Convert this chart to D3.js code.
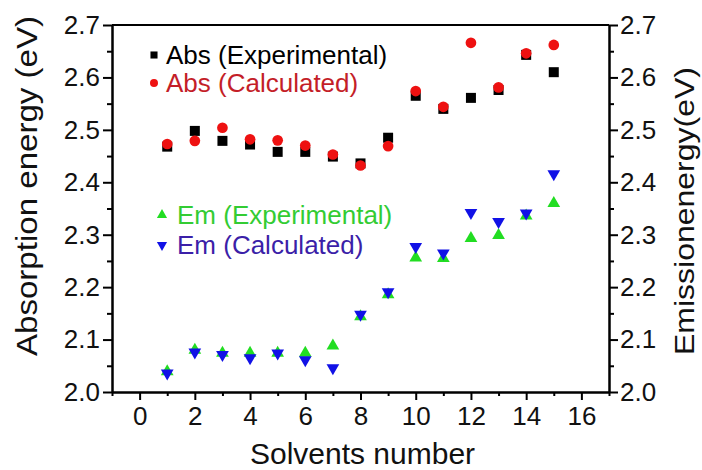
<!DOCTYPE html>
<html lang="en">
<head>
<meta charset="utf-8">
<title>Solvent energies</title>
<script src="https://d3js.org/d3.v7.min.js"></script>
<style>
  body { margin: 0; background: #fff; font-family: "Liberation Sans", Arial, sans-serif; }
</style>
</head>
<body>
<script>
// solvent numbers
var solvents = [1, 2, 3, 4, 5, 6, 7, 8, 9, 10, 11, 12, 13, 14, 15];
// absorption (eV)
var absExp  = [2.468, 2.498, 2.479, 2.472, 2.458, 2.458, 2.449, 2.436, 2.485, 2.565, 2.540, 2.561, 2.576, 2.643, 2.610];
var absCalc = [2.473, 2.479, 2.504, 2.482, 2.480, 2.470, 2.453, 2.432, 2.469, 2.574, 2.544, 2.666, 2.581, 2.646, 2.662];
// emission (eV)
var emExp   = [2.039, 2.080, 2.074, 2.074, 2.074, 2.074, 2.088, 2.144, 2.186, 2.256, 2.255, 2.293, 2.299, 2.336, 2.360];
var emCalc  = [2.036, 2.076, 2.071, 2.065, 2.074, 2.061, 2.046, 2.148, 2.191, 2.277, 2.265, 2.342, 2.325, 2.341, 2.416];
var xTicks = [0, 2, 4, 6, 8, 10, 12, 14, 16];
var yTicks = [2.0, 2.1, 2.2, 2.3, 2.4, 2.5, 2.6, 2.7];

var w = 702, h = 470;
var pLeft = 112, pRight = 609, pTop = 25, pBottom = 392;

var svg = d3.select("body").append("svg")
  .attr("width", w).attr("height", h);

var x = d3.scaleLinear().domain([-1, 17]).range([pLeft, pRight]);
var y = d3.scaleLinear().domain([2.0, 2.7]).range([pBottom, pTop]);
var y2 = d3.scaleLinear().domain([2.0, 2.7]).range([pBottom, pTop]);

var fmt = d3.format(".1f");

// minor ticks
var xMinor = d3.range(-1, 18, 2);
var yMinor = d3.range(2.05, 2.7, 0.1);

function styleAxis(g) {
  g.select(".domain").attr("stroke", "#000").attr("stroke-width", 2);
  g.selectAll(".tick line").attr("stroke", "#000").attr("stroke-width", 2);
  g.selectAll(".tick text").attr("font-size", 26).attr("fill", "#111")
    .attr("font-family", "Liberation Sans, Arial, sans-serif");
}

// bottom axis
svg.append("g").attr("transform", "translate(0," + pBottom + ")")
  .call(d3.axisBottom(x).tickValues(xMinor).tickSize(4).tickFormat("").tickSizeOuter(0))
  .call(styleAxis);
svg.append("g").attr("transform", "translate(0," + pBottom + ")")
  .call(d3.axisBottom(x).tickValues(xTicks).tickSize(8).tickPadding(7).tickSizeOuter(0))
  .call(styleAxis);

// left axis
svg.append("g").attr("transform", "translate(" + pLeft + ",0)")
  .call(d3.axisLeft(y).tickValues(yMinor).tickSize(5).tickFormat("").tickSizeOuter(0))
  .call(styleAxis);
svg.append("g").attr("transform", "translate(" + pLeft + ",0)")
  .call(d3.axisLeft(y).tickValues(yTicks).tickSize(9).tickPadding(3).tickFormat(fmt).tickSizeOuter(0))
  .call(styleAxis);

// right axis
svg.append("g").attr("transform", "translate(" + pRight + ",0)")
  .call(d3.axisRight(y2).tickValues(yMinor).tickSize(5).tickFormat("").tickSizeOuter(0))
  .call(styleAxis);
svg.append("g").attr("transform", "translate(" + pRight + ",0)")
  .call(d3.axisRight(y2).tickValues(yTicks).tickSize(9).tickPadding(2).tickFormat(fmt).tickSizeOuter(0))
  .call(styleAxis);

// top line
svg.append("line")
  .attr("x1", pLeft).attr("x2", pRight).attr("y1", pTop).attr("y2", pTop)
  .attr("stroke", "#000").attr("stroke-width", 2);

// axis titles
svg.append("text")
  .attr("x", (pLeft + pRight) / 2 + 2).attr("y", 464)
  .attr("text-anchor", "middle").attr("font-size", 30).attr("fill", "#111")
  .text("Solvents number");
svg.append("text")
  .attr("transform", "translate(37,186) rotate(-90)")
  .attr("text-anchor", "middle").attr("font-size", 29).attr("fill", "#111")
  .attr("textLength", 340).attr("lengthAdjust", "spacingAndGlyphs")
  .text("Absorption energy (eV)");
svg.append("text")
  .attr("transform", "translate(694,211) rotate(-90)")
  .attr("text-anchor", "middle").attr("font-size", 28).attr("fill", "#111")
  .attr("textLength", 288).attr("lengthAdjust", "spacingAndGlyphs")
  .text("Emissionenergy(eV)");

// markers
var sq = d3.symbol().type(d3.symbolSquare).size(100);
var circ = d3.symbol().type(d3.symbolCircle).size(90);
var triUp = d3.symbol().type(d3.symbolTriangle).size(70);

function plot(vals, path, color, rot) {
  svg.append("g").selectAll("path")
    .data(vals)
    .enter().append("path")
    .attr("d", path)
    .attr("fill", color)
    .attr("transform", function(d, i) {
      return "translate(" + x(solvents[i]) + "," + y(d) + ")" + (rot ? " rotate(180)" : "");
    });
}
plot(absExp, sq, "#000", false);
plot(absCalc, circ, "#ee1111", false);
plot(emExp, triUp, "#22dd22", false);
plot(emCalc, triUp, "#1111e6", true);

// legend
var legend = [
  {name: "Abs (Experimental)", sym: d3.symbol().type(d3.symbolSquare).size(50), fill: "#000", text: "#000", sx: 154, tx: 166, cy: 55, rot: false},
  {name: "Abs (Calculated)", sym: d3.symbol().type(d3.symbolCircle).size(50), fill: "#ee1111", text: "#c41e28", sx: 154, tx: 166, cy: 83, rot: false},
  {name: "Em (Experimental)", sym: d3.symbol().type(d3.symbolTriangle).size(45), fill: "#22dd22", text: "#33cc33", sx: 162, tx: 177, cy: 215, rot: false},
  {name: "Em (Calculated)", sym: d3.symbol().type(d3.symbolTriangle).size(45), fill: "#1111e6", text: "#3b1fa8", sx: 162, tx: 177, cy: 245, rot: true}
];
legend.forEach(function(l) {
  svg.append("path").attr("d", l.sym).attr("fill", l.fill)
    .attr("transform", "translate(" + l.sx + "," + l.cy + ")" + (l.rot ? " rotate(180)" : ""));
  svg.append("text").attr("x", l.tx).attr("y", l.cy + 9)
    .attr("font-size", 26).attr("fill", l.text).text(l.name);
});
</script>
</body>
</html>
